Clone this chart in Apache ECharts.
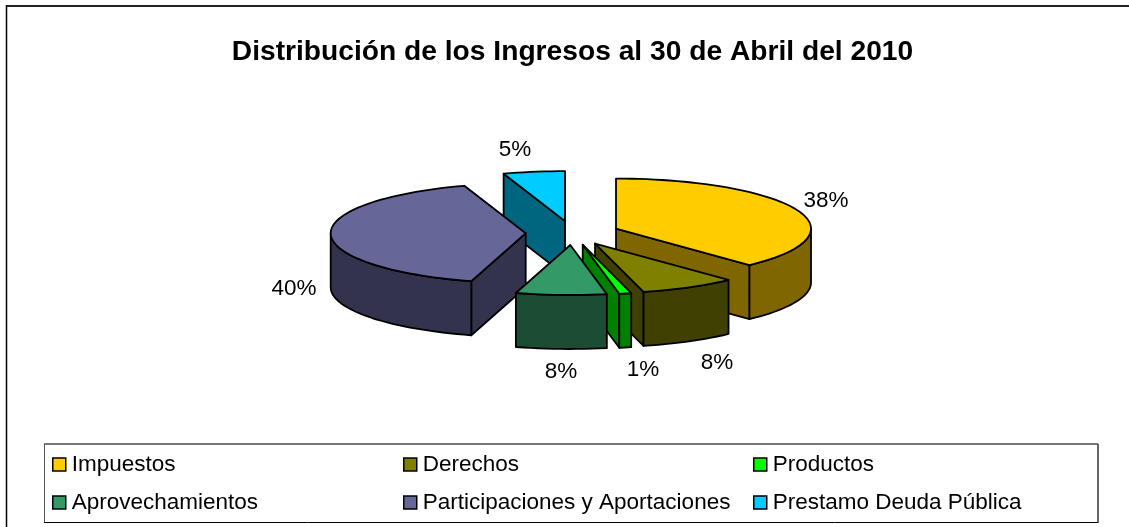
<!DOCTYPE html>
<html>
<head>
<meta charset="utf-8">
<style>html,body{margin:0;padding:0;background:#fff}#chart{width:1129px;height:527px}</style>
<script src="https://cdn.jsdelivr.net/npm/echarts@6/dist/echarts.min.js"></script>
</head>
<body>
<div id="chart"></div>
<script>
var categories = ['Impuestos', 'Derechos', 'Productos', 'Aprovechamientos', 'Participaciones y Aportaciones', 'Prestamo Deuda Pública'];
var values = [38, 8, 1, 7.5, 40.4, 5.1];
var topColors = ['#FFCC00', '#808000', '#00FF00', '#339966', '#666699', '#00CCFF'];
var sideColors = ['#806600', '#404000', '#008000', '#1A4D33', '#33334D', '#006680'];

// layout of the fake 3d pie
var cx = 572.5, cy = 233, rx = 195, ry = 50, depth = 54, explode = 0.24;
// where excel left the percent labels
var labelPos = [[826, 201], [717, 363], [643, 370], [561, 372], [294, 289], [515, 150]];
var legendCols = [[0, 3, 52], [1, 4, 403], [2, 5, 753]];
var font = '"Liberation Sans", Arial, sans-serif';

var total = values.reduce(function (a, b) { return a + b; }, 0);
var starts = [];
values.reduce(function (acc, v, i) { starts[i] = acc; return acc + v; }, 0);

function rim(theta, ox, oy) {
    return [ox + rx * Math.sin(theta), oy - ry * Math.cos(theta)];
}
function down(p) {
    return [p[0], p[1] + depth];
}
function arc(a, b, ox, oy) {
    var pts = [], n = Math.max(2, Math.ceil((b - a) / 0.04));
    for (var i = 0; i <= n; i++) pts.push(rim(a + (b - a) * i / n, ox, oy));
    return pts;
}
function poly(points, color) {
    return {
        type: 'polygon',
        shape: { points: points },
        style: { fill: color, stroke: '#000', lineWidth: 1.8, lineJoin: 'round' }
    };
}

function renderSlice(i, api) {
    var v = api.value(0);
    var a = starts[i] / total * Math.PI * 2;
    var b = a + v / total * Math.PI * 2;
    var mid = (a + b) / 2;
    var ox = cx + explode * rx * Math.sin(mid);
    var oy = cy - explode * ry * Math.cos(mid);
    var apex = [ox, oy];
    var pa = rim(a, ox, oy), pb = rim(b, ox, oy);
    var kids = [];
    // only faces turned to the viewer
    if (Math.sin(a) < -1e-6) kids.push(poly([apex, pa, down(pa), down(apex)], sideColors[i]));
    if (Math.sin(b) > 1e-6) kids.push(poly([apex, pb, down(pb), down(apex)], sideColors[i]));
    var w0 = Math.max(a, Math.PI / 2), w1 = Math.min(b, Math.PI * 1.5);
    if (w1 > w0) {
        var wall = arc(w0, w1, ox, oy);
        kids.push(poly(wall.concat(wall.map(down).reverse()), sideColors[i]));
    }
    kids.push(poly([apex].concat(arc(a, b, ox, oy)), topColors[i]));
    kids.push({
        type: 'text',
        x: labelPos[i][0], y: labelPos[i][1],
        style: { text: Math.round(v) + '%', fill: '#000', font: '22.5px ' + font, align: 'center', verticalAlign: 'middle' }
    });
    return { type: 'group', children: kids };
}

// back slices first
function backToFront(i) {
    return -Math.cos((starts[i] + values[i] / 2) / total * Math.PI * 2);
}

var series = categories.map(function (name, i) {
    return {
        type: 'custom',
        name: name,
        coordinateSystem: 'none',
        silent: true,
        animation: false,
        z: 10 + backToFront(i),
        itemStyle: { color: topColors[i] },
        renderItem: function (params, api) { return renderSlice(i, api); },
        data: [[values[i]]]
    };
});

var legends = legendCols.map(function (c) {
    return {
        orient: 'vertical',
        left: c[2],
        top: 453,
        itemWidth: 13,
        itemHeight: 13,
        itemGap: 15,
        padding: 0,
        selectedMode: false,
        icon: 'rect',
        itemStyle: { borderColor: '#000', borderWidth: 1.5 },
        textStyle: { fontFamily: font, fontSize: 22.5, color: '#000', padding: [0, 0, 0, 1] },
        data: [categories[c[0]], categories[c[1]]]
    };
});

function edge(x1, y1, x2, y2, color, width) {
    return { type: 'line', z: 1, shape: { x1: x1, y1: y1, x2: x2, y2: y2 }, style: { stroke: color, lineWidth: width } };
}

var myChart = echarts.init(document.getElementById('chart'), null, { renderer: 'canvas' });
myChart.setOption({
    animation: false,
    backgroundColor: '#fff',
    title: {
        text: 'Distribución de los Ingresos al 30 de Abril del 2010',
        left: 567.5, top: 33, textAlign: 'center',
        textStyle: { fontFamily: font, fontSize: 28.2, fontWeight: 'bold', color: '#000' }
    },
    legend: legends,
    graphic: [
        edge(6, 6, 1129, 6, '#222', 2),
        edge(6.5, 5, 6.5, 527, '#000', 1.5),
        edge(44, 444, 1098, 444, '#777', 2),
        edge(44.5, 444, 44.5, 522.5, '#555', 1),
        edge(44, 522.5, 1098, 522.5, '#000', 1),
        edge(1098, 444, 1098, 523, '#333', 1.5)
    ],
    series: series
});
</script>
</body>
</html>
